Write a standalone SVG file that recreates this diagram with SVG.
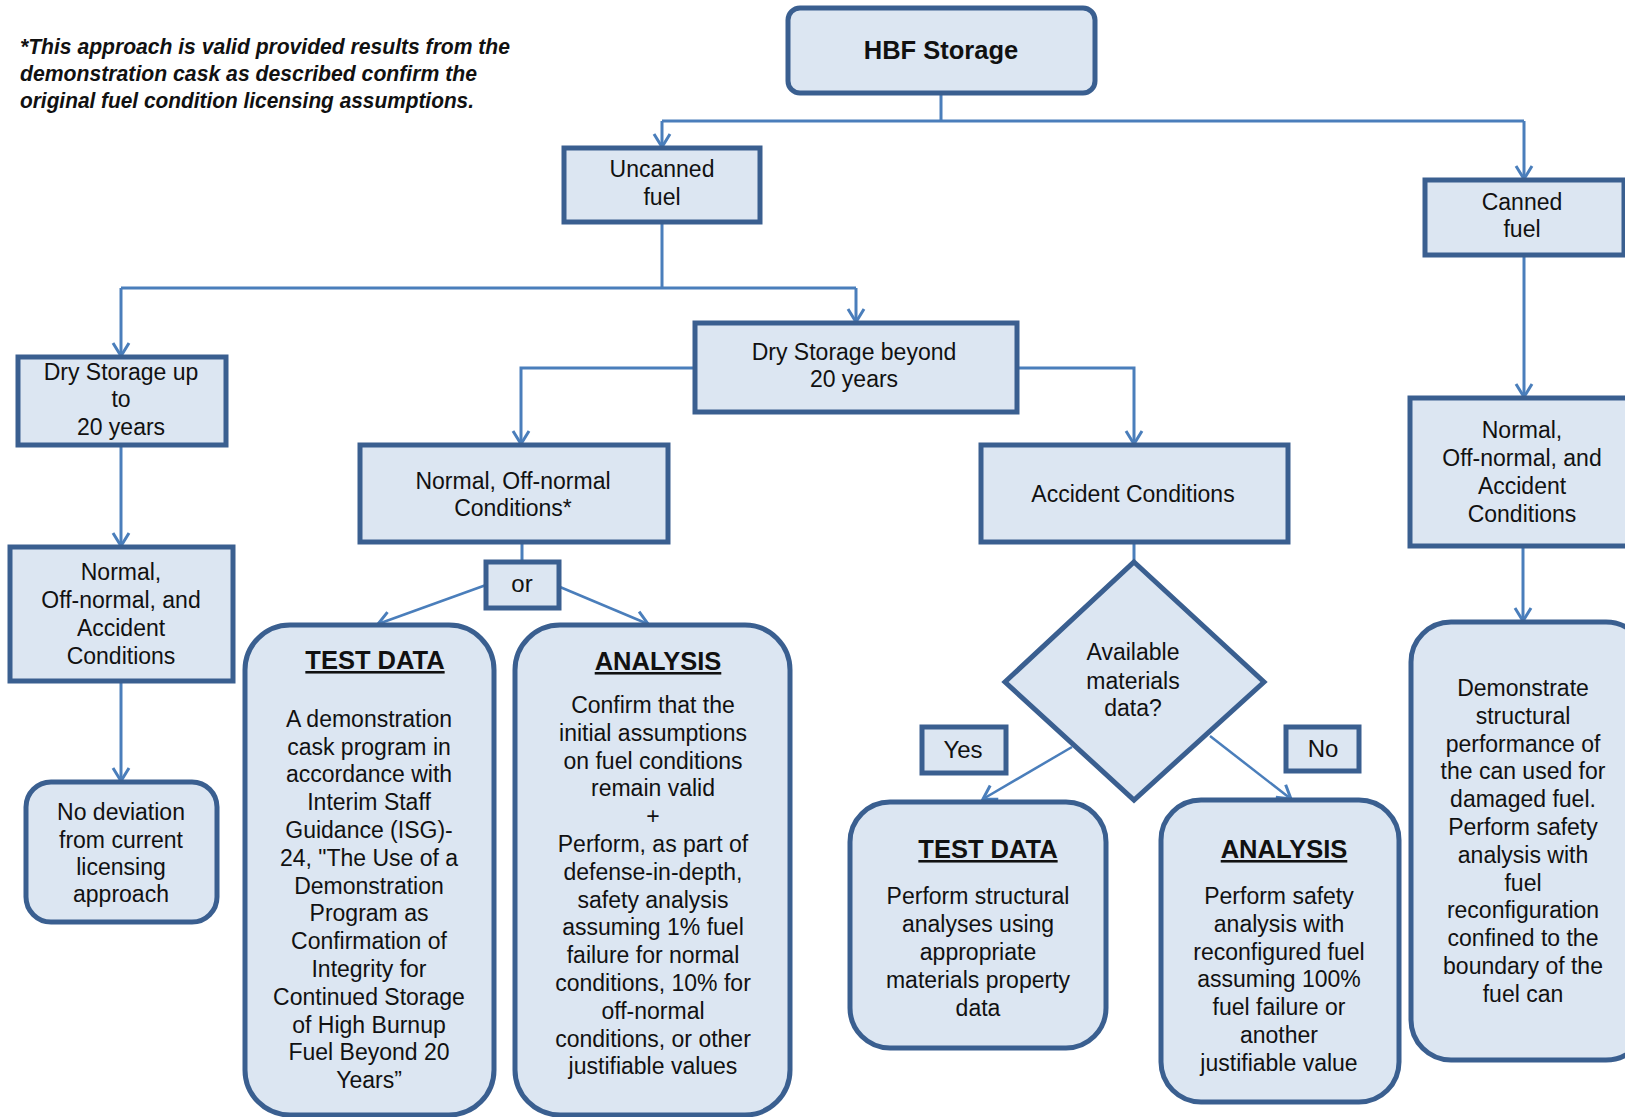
<svg xmlns="http://www.w3.org/2000/svg" width="1625" height="1117" viewBox="0 0 1625 1117">
<style>
.box{fill:#dce6f2;stroke:#3a5f90;stroke-width:5}
.t{font-family:"Liberation Sans",Arial,sans-serif;font-size:23px;fill:#111;text-anchor:middle}
.ttl{font-family:"Liberation Sans",Arial,sans-serif;font-size:25.5px;font-weight:bold;fill:#111;text-anchor:middle;text-decoration:underline}
.c{fill:none;stroke:#4a7ebb;stroke-width:3}
.d{fill:none;stroke:#4a7ebb;stroke-width:2.5}
.note{font-family:"Liberation Sans",Arial,sans-serif;font-size:22px;font-weight:bold;font-style:italic;fill:#111}
</style>
<defs>
<marker id="a" viewBox="-16 -10 18 20" refX="0" refY="0" markerWidth="18" markerHeight="20" markerUnits="userSpaceOnUse" orient="auto">
<path d="M-13,-8 L0,0 L-13,8" fill="none" stroke="#4a7ebb" stroke-width="3"/>
</marker>
</defs>
<rect width="1625" height="1117" fill="#fff"/>

<g id="footnote">
<text class="note" x="20" y="54" textLength="490" lengthAdjust="spacingAndGlyphs">*This approach is valid provided results from the</text>
<text class="note" x="20" y="81" textLength="457" lengthAdjust="spacingAndGlyphs">demonstration cask as described confirm the</text>
<text class="note" x="20" y="108" textLength="454" lengthAdjust="spacingAndGlyphs">original fuel condition licensing assumptions.</text>
</g>

<g id="connectors">
<path class="c" d="M941,93 V121 M662,121 H1524"/>
<path class="c" d="M662,121 V147" marker-end="url(#a)"/>
<path class="c" d="M1524,121 V179" marker-end="url(#a)"/>
<path class="c" d="M662,222 V288 M121,288 H856"/>
<path class="c" d="M121,288 V356" marker-end="url(#a)"/>
<path class="c" d="M856,288 V322" marker-end="url(#a)"/>
<path class="c" d="M695,368 H521 V444" marker-end="url(#a)"/>
<path class="c" d="M1017,368 H1134 V444" marker-end="url(#a)"/>
<path class="c" d="M121,445 V546" marker-end="url(#a)"/>
<path class="c" d="M121,681 V781" marker-end="url(#a)"/>
<path class="c" d="M522,542 V562"/>
<path class="d" d="M486,585 L378,624" marker-end="url(#a)"/>
<path class="d" d="M560,587 L648,624" marker-end="url(#a)"/>
<path class="c" d="M1134,542 V562"/>
<path class="d" d="M1072,747 L983,799" marker-end="url(#a)"/>
<path class="d" d="M1210,736 L1291,799" marker-end="url(#a)"/>
<path class="c" d="M1524,255 V397" marker-end="url(#a)"/>
<path class="c" d="M1523,546 V621" marker-end="url(#a)"/>
</g>

<g id="hbf">
<rect class="box" x="788" y="8" width="307" height="85" rx="12"/>
<text x="941" y="59" style="font-family:'Liberation Sans',Arial,sans-serif;font-size:25.5px;font-weight:bold;fill:#111;text-anchor:middle">HBF Storage</text>
</g>

<g id="uncanned">
<rect class="box" x="564" y="148" width="196" height="74"/>
<text class="t" x="662" y="177">Uncanned</text>
<text class="t" x="662" y="205">fuel</text>
</g>

<g id="canned">
<rect class="box" x="1425" y="180" width="199" height="75"/>
<text class="t" x="1522" y="210">Canned</text>
<text class="t" x="1522" y="237">fuel</text>
</g>

<g id="dry20">
<rect class="box" x="18" y="357" width="208" height="88"/>
<text class="t" x="121" y="380">Dry Storage up</text>
<text class="t" x="121" y="407">to</text>
<text class="t" x="121" y="435">20 years</text>
</g>

<g id="drybeyond">
<rect class="box" x="695" y="323" width="322" height="89"/>
<text class="t" x="854" y="360">Dry Storage beyond</text>
<text class="t" x="854" y="387">20 years</text>
</g>

<g id="normalLeft">
<rect class="box" x="10" y="547" width="223" height="134"/>
<text class="t" x="121" y="580">Normal,</text>
<text class="t" x="121" y="607.5">Off-normal,  and</text>
<text class="t" x="121" y="635.5">Accident</text>
<text class="t" x="121" y="663.5">Conditions</text>
</g>

<g id="nodeviation">
<rect class="box" x="26" y="782" width="191" height="140" rx="25"/>
<text class="t" x="121" y="820">No deviation</text>
<text class="t" x="121" y="847.5">from current</text>
<text class="t" x="121" y="875">licensing</text>
<text class="t" x="121" y="902">approach</text>
</g>

<g id="normalOff">
<rect class="box" x="360" y="445" width="308" height="97"/>
<text class="t" x="513" y="489">Normal,  Off-normal</text>
<text class="t" x="513" y="515.5">Conditions*</text>
</g>

<g id="or">
<rect class="box" x="486" y="562" width="73" height="46"/>
<text class="t" x="522" y="592" style="font-size:24px">or</text>
</g>

<g id="testdata1">
<rect class="box" x="245" y="625" width="249" height="490" rx="45"/>
<text class="ttl" x="375" y="669">TEST DATA</text>
<text class="t" x="369" y="726.7">A demonstration</text>
<text class="t" x="369" y="754.5">cask program  in</text>
<text class="t" x="369" y="782.3">accordance with</text>
<text class="t" x="369" y="810.1">Interim Staff</text>
<text class="t" x="369" y="837.9">Guidance (ISG)-</text>
<text class="t" x="369" y="865.7">24, "The Use of a</text>
<text class="t" x="369" y="893.5">Demonstration</text>
<text class="t" x="369" y="921.3">Program as</text>
<text class="t" x="369" y="949.1">Confirmation of</text>
<text class="t" x="369" y="976.9">Integrity for</text>
<text class="t" x="369" y="1004.7">Continued Storage</text>
<text class="t" x="369" y="1032.5">of High  Burnup</text>
<text class="t" x="369" y="1060.3">Fuel Beyond 20</text>
<text class="t" x="369" y="1088.1">Years”</text>
</g>

<g id="analysis1">
<rect class="box" x="515" y="625" width="275" height="490" rx="45"/>
<text class="ttl" x="658" y="670">ANALYSIS</text>
<text class="t" x="653" y="713">Confirm that the</text>
<text class="t" x="653" y="740.8">initial assumptions</text>
<text class="t" x="653" y="768.6">on fuel conditions</text>
<text class="t" x="653" y="796.4">remain valid</text>
<text class="t" x="653" y="824.2">+</text>
<text class="t" x="653" y="852">Perform, as part of</text>
<text class="t" x="653" y="879.8">defense-in-depth,</text>
<text class="t" x="653" y="907.6">safety analysis</text>
<text class="t" x="653" y="935.4">assuming  1% fuel</text>
<text class="t" x="653" y="963.2">failure for normal</text>
<text class="t" x="653" y="991">conditions, 10% for</text>
<text class="t" x="653" y="1018.8">off-normal</text>
<text class="t" x="653" y="1046.6">conditions, or other</text>
<text class="t" x="653" y="1074.4">justifiable values</text>
</g>

<g id="accident">
<rect class="box" x="981" y="445" width="307" height="97"/>
<text class="t" x="1133" y="502">Accident Conditions</text>
</g>

<g id="decision">
<polygon class="box" points="1134,562 1264,682 1134,800 1005,682"/>
<text class="t" x="1133" y="660">Available</text>
<text class="t" x="1133" y="689">materials</text>
<text class="t" x="1133" y="716">data?</text>
</g>

<g id="yes">
<rect class="box" x="922" y="727" width="84" height="46"/>
<text class="t" x="963" y="758" style="font-size:24px">Yes</text>
</g>

<g id="no">
<rect class="box" x="1286" y="727" width="73" height="44"/>
<text class="t" x="1323" y="757" style="font-size:24px">No</text>
</g>

<g id="testdata2">
<rect class="box" x="850" y="802" width="256" height="246" rx="40"/>
<text class="ttl" x="988" y="858">TEST DATA</text>
<text class="t" x="978" y="904">Perform structural</text>
<text class="t" x="978" y="932">analyses using</text>
<text class="t" x="978" y="960">appropriate</text>
<text class="t" x="978" y="988">materials property</text>
<text class="t" x="978" y="1016">data</text>
</g>

<g id="analysis2">
<rect class="box" x="1161" y="800" width="238" height="302" rx="40"/>
<text class="ttl" x="1284" y="858">ANALYSIS</text>
<text class="t" x="1279" y="904">Perform safety</text>
<text class="t" x="1279" y="931.8">analysis with</text>
<text class="t" x="1279" y="959.6">reconfigured fuel</text>
<text class="t" x="1279" y="987.4">assuming  100%</text>
<text class="t" x="1279" y="1015.2">fuel failure or</text>
<text class="t" x="1279" y="1043">another</text>
<text class="t" x="1279" y="1070.8">justifiable value</text>
</g>

<g id="normalRight">
<rect class="box" x="1410" y="398" width="225" height="148"/>
<text class="t" x="1522" y="438">Normal,</text>
<text class="t" x="1522" y="466">Off-normal,  and</text>
<text class="t" x="1522" y="494">Accident</text>
<text class="t" x="1522" y="522">Conditions</text>
</g>

<g id="cannedResult">
<rect class="box" x="1411" y="622" width="235" height="438" rx="40"/>
<text class="t" x="1523" y="696">Demonstrate</text>
<text class="t" x="1523" y="723.8">structural</text>
<text class="t" x="1523" y="751.6">performance of</text>
<text class="t" x="1523" y="779.4">the can used for</text>
<text class="t" x="1523" y="807.2">damaged  fuel.</text>
<text class="t" x="1523" y="835">Perform safety</text>
<text class="t" x="1523" y="862.8">analysis with</text>
<text class="t" x="1523" y="890.6">fuel</text>
<text class="t" x="1523" y="918.4">reconfiguration</text>
<text class="t" x="1523" y="946.2">confined to the</text>
<text class="t" x="1523" y="974">boundary of the</text>
<text class="t" x="1523" y="1001.8">fuel can</text>
</g>
</svg>
